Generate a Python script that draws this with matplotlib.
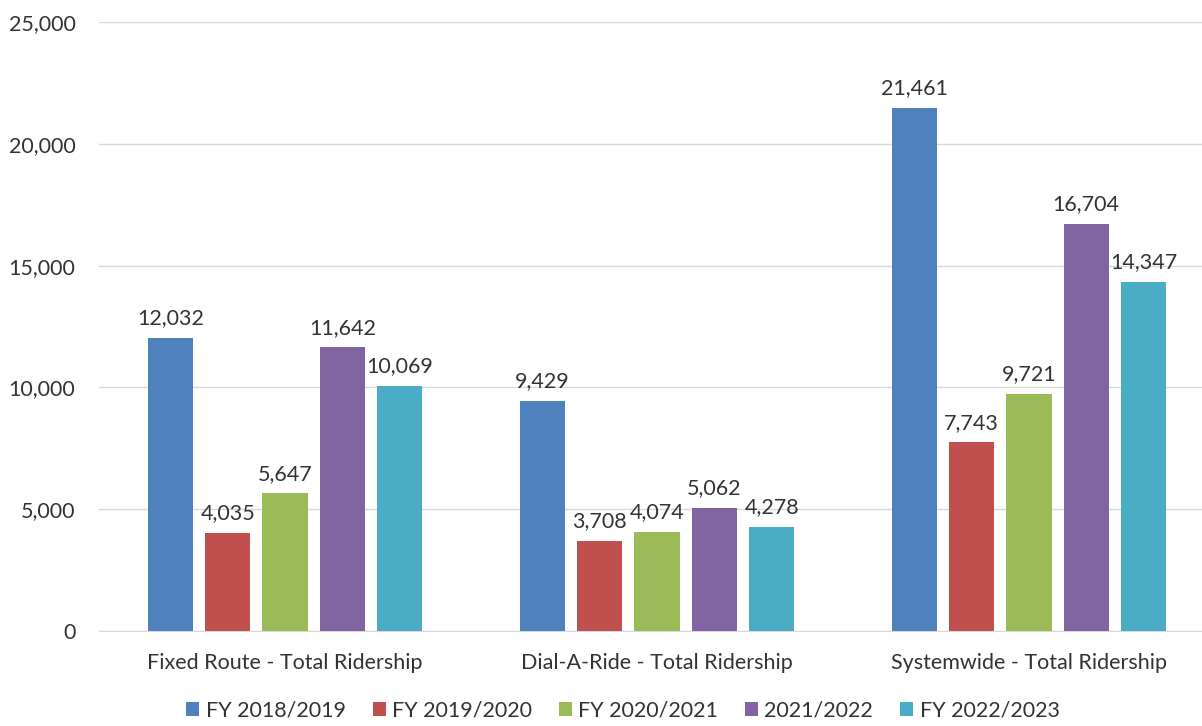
import matplotlib

matplotlib.use("Agg")
import matplotlib.pyplot as plt
import numpy as np

categories = ["Fixed Route - Total Ridership", "Dial-A-Ride - Total Ridership",
              "Systemwide - Total Ridership"]
series_names = ["FY 2018/2019", "FY 2019/2020", "FY 2020/2021", "2021/2022", "FY 2022/2023"]
fy_2018 = [12032, 9429, 21461]
fy_2019 = [4035, 3708, 7743]
fy_2020 = [5647, 4074, 9721]
fy_2021 = [11642, 5062, 16704]
fy_2022 = [10069, 4278, 14347]
series = [fy_2018, fy_2019, fy_2020, fy_2021, fy_2022]
colors = ["#4F81BD", "#C0504D", "#9BBB59", "#8064A2", "#4BACC6"]

plt.rcParams["font.family"] = ["Lato", "DejaVu Sans"]
FS = 15.5

fig = plt.figure(figsize=(12.02, 7.26), dpi=100)
ax = fig.add_axes([99 / 1202, 95 / 726, 1116 / 1202, 609 / 726])

x = np.arange(len(categories))
pitch = 0.154
width = 0.121
for i, (vals, name, c) in enumerate(zip(series, series_names, colors)):
    pos = x + (i - 2) * pitch
    bars = ax.bar(pos, vals, width=width, color=c, label=name, zorder=3)
    for b, v in zip(bars, vals):
        ax.annotate(f"{v:,}", (b.get_x() + b.get_width() / 2, v),
                    xytext=(0, 7), textcoords="offset points",
                    ha="center", va="bottom", fontsize=FS, color="#333333")

ax.set_xlim(-0.5, 2.5)
ax.set_ylim(0, 25000)
ax.set_yticks(range(0, 25001, 5000))
ax.yaxis.set_major_formatter(matplotlib.ticker.FuncFormatter(lambda v, p: f"{int(v):,}"))
ax.set_xticks(x)
ax.set_xticklabels(categories)
ax.tick_params(axis="both", length=0, labelsize=FS, colors="#333333")
ax.tick_params(axis="y", pad=17)
ax.tick_params(axis="x", pad=16)
ax.grid(axis="y", color="#D9D9D9", linewidth=1, zorder=0)
for s in ["top", "right", "left"]:
    ax.spines[s].set_visible(False)
ax.spines["bottom"].set_color("#D9D9D9")

ax.legend(loc="upper center", bbox_to_anchor=(0.4695, -0.09), ncol=5, frameon=False,
          fontsize=FS, handlelength=0.6, handleheight=0.6, handletextpad=0.3,
          columnspacing=1.25, borderpad=0.2, labelcolor="#333333")

fig.savefig("out.png", dpi=100)
